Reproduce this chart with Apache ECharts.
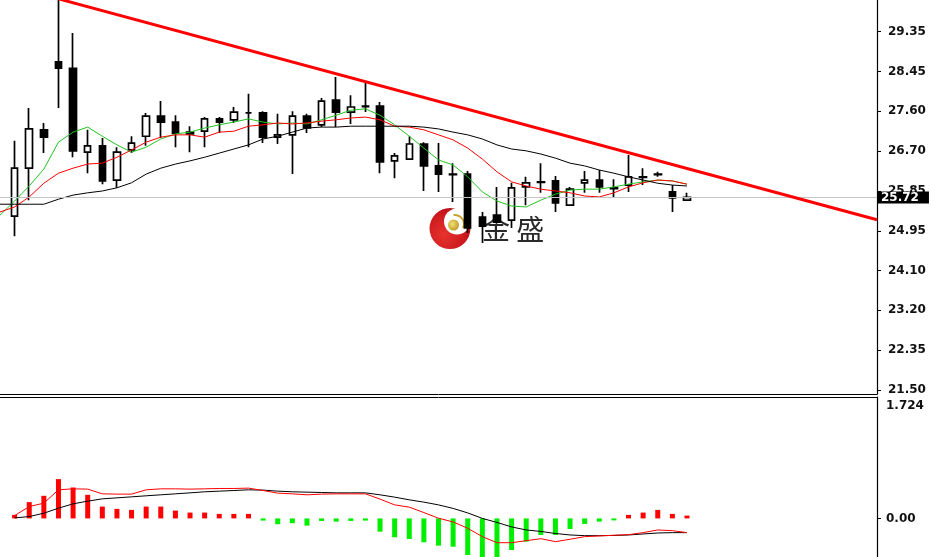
<!DOCTYPE html>
<html><head><meta charset="utf-8">
<script src="https://cdn.jsdelivr.net/npm/echarts@6/dist/echarts.min.js"></script>
<style>html,body{margin:0;padding:0;background:#fff;overflow:hidden}#c{width:931px;height:557px}</style>
</head><body><div id="c"></div>
<script>
// ---- data (bar 0 is the bar just left of the view, bars 1..47 are visible candles, 48..60 empty space) ----
const categories = ['b0','b1','b2','b3','b4','b5','b6','b7','b8','b9','b10','b11','b12','b13','b14','b15','b16','b17','b18','b19','b20','b21','b22','b23','b24','b25','b26','b27','b28','b29','b30','b31','b32','b33','b34','b35','b36','b37','b38','b39','b40','b41','b42','b43','b44','b45','b46','b47','b48','b49','b50','b51','b52','b53','b54','b55','b56','b57','b58','b59','b60'];
const opens  = [25.31,26.36,27.20,28.69,28.55,26.71,26.85,26.10,26.76,27.06,27.50,27.37,27.11,27.17,27.44,27.42,27.57,27.57,27.04,27.09,27.50,27.31,27.85,27.59,27.72,27.72,26.52,26.56,26.89,26.41,26.23,26.23,25.29,25.33,25.22,25.95,26.06,26.08,25.55,26.04,26.10,25.93,25.99,26.17,26.23,25.84,25.66];
const closes = [26.36,27.22,27.04,28.55,26.74,26.85,26.08,26.71,26.91,27.50,27.37,27.13,27.15,27.44,27.37,27.59,27.57,27.04,27.09,27.50,27.24,27.83,27.59,27.70,27.71,26.50,26.63,26.89,26.41,26.23,26.22,25.05,25.09,25.18,25.93,26.04,26.05,25.60,25.90,26.10,25.95,25.91,26.17,26.16,26.22,25.71,25.72];
const lows   = [24.87,25.66,26.69,27.68,26.60,26.25,26.01,25.93,26.69,26.85,27.02,26.82,26.71,26.82,27.13,27.35,26.82,26.91,26.89,26.23,27.13,27.26,27.26,27.33,27.59,26.25,26.14,26.54,25.86,25.84,25.62,24.94,24.72,25.14,25.05,25.55,25.82,25.40,25.53,25.82,25.82,25.73,25.84,25.99,26.17,25.40,25.64];
const highs  = [26.96,27.68,27.35,30.09,29.32,27.20,27.02,26.82,27.06,27.57,27.83,27.52,27.28,27.48,27.48,27.70,27.99,27.61,27.55,27.61,27.55,27.90,28.36,27.96,28.23,27.81,26.69,27.06,26.93,26.91,26.47,26.30,25.40,25.95,26.04,26.17,26.47,26.19,25.95,26.30,26.32,26.12,26.65,26.36,26.28,25.99,25.82];
// moving averages, bars 0..47
const maGreen = [25.33,25.64,25.97,26.34,26.93,27.15,27.26,27.06,26.87,26.71,26.82,27.00,27.11,27.15,27.24,27.31,27.37,27.44,27.37,27.33,27.35,27.33,27.42,27.52,27.63,27.66,27.52,27.31,27.06,26.80,26.54,26.43,26.17,25.84,25.64,25.53,25.51,25.66,25.79,25.88,25.90,25.90,25.95,26.01,26.06,26.10,26.08,26.01];
const maRed   = [25.40,25.51,25.73,26.03,26.25,26.36,26.45,26.47,26.60,26.76,26.93,27.04,27.09,27.09,27.04,27.15,27.17,27.28,27.31,27.35,27.33,27.35,27.39,27.42,27.46,27.48,27.42,27.28,27.26,27.20,27.09,26.98,26.80,26.56,26.28,26.06,25.97,25.90,25.86,25.82,25.75,25.73,25.82,25.95,26.04,26.10,26.08,26.01];
const maBlack = [25.57,25.57,25.57,25.57,25.68,25.77,25.82,25.86,25.93,26.04,26.23,26.36,26.45,26.52,26.60,26.69,26.78,26.87,27.00,27.06,27.15,27.24,27.26,27.26,27.28,27.28,27.28,27.28,27.28,27.26,27.22,27.15,27.09,27.00,26.87,26.78,26.74,26.67,26.58,26.47,26.41,26.32,26.25,26.17,26.10,26.03,25.99,25.97];
// trend line: [bar index, price]
const trendPoints = [[4, 30.07], [60, 25.23]];
// MACD panel, bars 1..47
const macdHist  = [0.050,0.231,0.321,0.558,0.439,0.335,0.168,0.135,0.121,0.168,0.168,0.111,0.083,0.083,0.064,0.064,0.064,-0.031,-0.083,-0.068,-0.103,-0.036,-0.046,-0.036,-0.031,-0.188,-0.268,-0.292,-0.339,-0.387,-0.402,-0.520,-0.62,-0.59,-0.449,-0.330,-0.235,-0.235,-0.150,-0.078,-0.046,-0.014,0.050,0.083,0.121,0.064,0.040];
const macdBlack = [0.007,0.026,0.074,0.145,0.207,0.245,0.278,0.292,0.306,0.321,0.335,0.349,0.363,0.378,0.387,0.396,0.406,0.402,0.387,0.378,0.373,0.368,0.363,0.363,0.363,0.335,0.302,0.264,0.231,0.192,0.142,0.078,0.000,-0.057,-0.121,-0.164,-0.185,-0.214,-0.235,-0.245,-0.245,-0.242,-0.235,-0.221,-0.207,-0.202,-0.202];
const macdRed   = [0.040,0.168,0.217,0.406,0.420,0.416,0.349,0.345,0.345,0.406,0.420,0.420,0.416,0.420,0.425,0.425,0.430,0.396,0.359,0.349,0.335,0.345,0.349,0.349,0.349,0.274,0.192,0.160,0.083,0.003,-0.050,-0.140,-0.259,-0.345,-0.345,-0.316,-0.288,-0.330,-0.296,-0.259,-0.249,-0.239,-0.231,-0.202,-0.164,-0.174,-0.202];
// axis ticks
const priceTickValues = [21.5,22.3722,23.2444,24.1167,24.9889,25.8611,26.7333,27.6056,28.4778,29.35];
const priceTickLabels = ['21.50','22.35','23.20','24.10','24.95','25.85','26.70','27.60','28.45','29.35'];
const macdTickValues = [0, 1.724];
const macdTickLabels = ['0.00', '1.724'];
const watermark = '金 盛';

// ---- build ----
const FIRST = 1;
function padTo(arr, offset) {
  return categories.map((_, i) => { const j = i - offset; return (j >= 0 && j < arr.length) ? arr[j] : '-'; });
}
const candleData = categories.map((_, i) => {
  const j = i - FIRST;
  return (j >= 0 && j < opens.length) ? [opens[j], closes[j], lows[j], highs[j]] : ['-','-','-','-'];
});
const lastClose = closes[closes.length - 1];
function nearestLabel(vals, labels, v) {
  let best = 0;
  for (let k = 1; k < vals.length; k++) if (Math.abs(vals[k] - v) < Math.abs(vals[best] - v)) best = k;
  return labels[best];
}
const axisFont = { fontFamily: 'DejaVu Sans', fontSize: 12, fontWeight: 'bold', color: '#111' };

const chart = echarts.init(document.getElementById('c'), null, { renderer: 'canvas' });
chart.setOption({
  animation: false,
  backgroundColor: '#fff',
  grid: [
    { left: -7.75, right: 54, top: 0, height: 394 },
    { left: -7.75, right: 54, top: 397, bottom: 0 }
  ],
  xAxis: [
    { type: 'category', gridIndex: 0, data: categories, boundaryGap: false,
      axisLine: { show: true, lineStyle: { color: '#000', width: 1 } },
      axisTick: { show: false }, axisLabel: { show: false }, splitLine: { show: false } },
    { type: 'category', gridIndex: 1, data: categories, boundaryGap: false, position: 'top',
      axisLine: { show: true, onZero: false, lineStyle: { color: '#000', width: 1 } },
      axisTick: { show: false }, axisLabel: { show: false }, splitLine: { show: false } }
  ],
  yAxis: [
    { type: 'value', gridIndex: 0, position: 'right', min: 21.412, max: 30.045, scale: true,
      axisLine: { show: true, lineStyle: { color: '#000', width: 1.2 } },
      axisTick: { show: true, length: 4, customValues: priceTickValues, lineStyle: { color: '#000' } },
      axisLabel: Object.assign({ customValues: priceTickValues, margin: 11,
        formatter: v => nearestLabel(priceTickValues, priceTickLabels, v) }, axisFont),
      splitLine: { show: false } },
    { type: 'value', gridIndex: 1, position: 'right', min: -0.548, max: 1.724,
      axisLine: { show: true, lineStyle: { color: '#000', width: 1.2 } },
      axisTick: { show: true, length: 4, customValues: [0], lineStyle: { color: '#000' } },
      axisLabel: Object.assign({ customValues: macdTickValues, margin: 9,
        formatter: v => { const s = nearestLabel(macdTickValues, macdTickLabels, v); return v > 1 ? '{t|' + s + '}' : s; },
        rich: { t: Object.assign({ padding: [17, 0, 0, 0] }, axisFont) } }, axisFont),
      splitLine: { show: false } }
  ],
  graphic: [
    { type: 'circle', z: 0, shape: { cx: 450, cy: 228.5, r: 20.5 },
      style: { fill: new echarts.graphic.RadialGradient(0.35, 0.65, 0.8, [
        { offset: 0, color: '#e8332c' }, { offset: 0.7, color: '#c8161d' }, { offset: 1, color: '#8e0c10' }]) } },
    { type: 'circle', z: 0, shape: { cx: 457, cy: 221.5, r: 13 }, style: { fill: '#fff' } },
    { type: 'arc', z: 0, shape: { cx: 455, cy: 224, r: 9, startAngle: -Math.PI * 0.55, endAngle: Math.PI * 0.15 },
      style: { stroke: '#c9a227', lineWidth: 2, fill: null } },
    { type: 'circle', z: 0, shape: { cx: 453.5, cy: 225, r: 5.5 },
      style: { fill: new echarts.graphic.RadialGradient(0.4, 0.4, 0.7, [
        { offset: 0, color: '#f3e07a' }, { offset: 1, color: '#b8941c' }]) } },
    { type: 'text', z: 0, style: { text: watermark, x: 482, y: 229, verticalAlign: 'middle', align: 'left',
      font: '28px "Noto Sans CJK SC"', fill: '#2a2a2a' } }
  ],
  series: [
    { type: 'line', name: 'MA fast', xAxisIndex: 0, yAxisIndex: 0, data: padTo(maGreen, 0), showSymbol: false, symbol: 'none',
      lineStyle: { color: '#22c322', width: 1 }, z: 3, silent: true },
    { type: 'line', name: 'MA mid', xAxisIndex: 0, yAxisIndex: 0, data: padTo(maRed, 0), showSymbol: false, symbol: 'none',
      lineStyle: { color: '#ff0000', width: 1 }, z: 3, silent: true },
    { type: 'line', name: 'MA slow', xAxisIndex: 0, yAxisIndex: 0, data: padTo(maBlack, 0), showSymbol: false, symbol: 'none',
      lineStyle: { color: '#000000', width: 1 }, z: 3, silent: true },
    { type: 'candlestick', name: 'price', xAxisIndex: 0, yAxisIndex: 0, data: candleData, barWidth: 7, clip: false, z: 2,
      itemStyle: { color: '#ffffff', color0: '#000000', borderColor: '#000000', borderColor0: '#000000',
        borderColorDoji: '#000000', borderWidth: 1.7 },
      markLine: { silent: true, symbol: ['none', 'none'], animation: false,
        lineStyle: { color: '#c4c4c4', width: 1, type: 'solid' },
        label: { show: true, position: 'end', distance: 1, formatter: lastClose.toFixed(2),
          color: '#fff', backgroundColor: '#000', fontFamily: 'DejaVu Sans', fontSize: 12, fontWeight: 'bold',
          padding: [1, 10, 0, 3], lineHeight: 11 },
        data: [{ yAxis: lastClose }] } },
    { type: 'line', name: 'trend', xAxisIndex: 0, yAxisIndex: 0, data: trendPoints, showSymbol: false, symbol: 'none',
      lineStyle: { color: '#ff0000', width: 3 }, z: 5, silent: true },
    { type: 'bar', name: 'hist', xAxisIndex: 1, yAxisIndex: 1, data: padTo(macdHist, FIRST), barWidth: 5, barMinHeight: 2,
      itemStyle: { color: p => (p.value >= 0 ? '#ff0000' : '#00ee00') }, silent: true },
    { type: 'line', name: 'macd black', xAxisIndex: 1, yAxisIndex: 1, data: padTo(macdBlack, FIRST), showSymbol: false, symbol: 'none',
      lineStyle: { color: '#000', width: 1 }, z: 3, silent: true },
    { type: 'line', name: 'macd red', xAxisIndex: 1, yAxisIndex: 1, data: padTo(macdRed, FIRST), showSymbol: false, symbol: 'none',
      lineStyle: { color: '#ff0000', width: 1 }, z: 3, silent: true }
  ]
});
</script></body></html>
